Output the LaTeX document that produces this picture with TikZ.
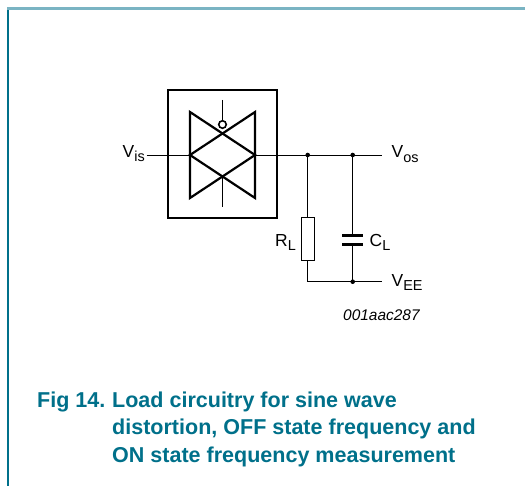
\documentclass[tikz,border=0pt]{standalone}
\usepackage{fontspec}
\setmainfont{Liberation Sans}
\definecolor{figteal}{HTML}{00708A}
\definecolor{rulebar}{HTML}{7AB4C3}
\newcommand{\sub}[1]{\raisebox{-4.2bp}{\fontsize{14.5}{14.5}\selectfont #1}}

\begin{document}
\begin{tikzpicture}[x=1bp,y=-1bp,
  wire/.style={line width=0.9bp},
  heavy/.style={line width=2.2bp},
  plate/.style={line width=3bp},
  lbl/.style={inner sep=0pt,font=\fontsize{17.5}{20}\selectfont},
  captext/.style={inner sep=0pt,anchor=base west,text=figteal,
    font=\fontsize{21.6}{26}\selectfont\bfseries},
  dot/.style={circle,fill,inner sep=0pt,minimum size=4.6bp}]
\useasboundingbox (0,0) rectangle (525,486);
% frame rules
\fill[rulebar] (7,7) rectangle (525,9.6);
\fill[figteal] (7,9.6) rectangle (9.2,486);

% switch box
\coordinate (S1) at (168,90);
\coordinate (S2) at (277,218);
\draw[heavy] (S1) rectangle (S2);
\coordinate (TL) at (190,112);
\coordinate (TR) at (255,112);
\coordinate (BL) at (190,198);
\coordinate (BR) at (255,198);
\coordinate (ML) at (190,155);
\coordinate (MR) at (255,155);
\draw[heavy,line join=miter] (TL) -- (MR) -- (BL) -- cycle;
\draw[heavy,line join=miter] (TR) -- (ML) -- (BR) -- cycle;
\coordinate (G1) at (222.5,100);
\coordinate (G2) at (222.5,206.5);
\coordinate (X2) at (222.5,176.7);
\node[circle,draw,line width=1.6bp,inner sep=0pt,minimum size=7.5bp,fill=white] (bub) at (222.5,124.5) {};
\draw[wire] (G1) -- (bub.north);
\draw[wire] (X2) -- (G2);

% input
\coordinate (in) at (146.5,155);
\node[lbl,anchor=base east] (vis) at (145,157.3) {V\sub{is}};
\draw[wire] (in) -- (ML);

% output and load
\coordinate (J1) at (307.7,155);
\coordinate (J2) at (352.7,155);
\coordinate (out) at (382,155);
\coordinate (J3) at (352.7,281.7);
\coordinate (J4) at (307.7,281.7);
\coordinate (ee) at (382,281.7);
\draw[wire] (MR) -- (out);
\node[dot] at (J1) {};
\node[dot] at (J2) {};
\node[dot] at (J3) {};
\node[wire,draw,minimum width=13bp,minimum height=43bp,inner sep=0pt] (RL) at (307.7,238.5) {};
\draw[wire] (J1) -- (RL.north);
\draw[wire] (RL.south) -- (J4) -- (J3) -- (ee);
\coordinate (C1) at (352.7,235);
\coordinate (C2) at (352.7,244.3);
\draw[wire] (J2) -- (C1);
\draw[wire] (C2) -- (J3);
\draw[plate] ([xshift=-10.5bp]C1) -- ([xshift=10.5bp]C1);
\draw[plate] ([xshift=-10.5bp]C2) -- ([xshift=10.5bp]C2);

% labels
\node[lbl,anchor=base west] (vos) at (391.5,158) {V\sub{os}};
\node[lbl,anchor=base west] (vee) at (391.5,286) {V\sub{EE}};
\node[lbl,anchor=base east] (rl) at (296,246) {R\sub{L}};
\node[lbl,anchor=base west] (cl) at (369.5,246) {C\sub{L}};
\node[lbl,anchor=base west,font=\fontsize{15.5}{18}\selectfont\itshape] (code) at (343,320) {001aac287};

% caption
\node[captext] (fig) at (37,407) {Fig 14.};
\node[captext] (cap1) at (112,407) {Load circuitry for sine wave};
\node[captext] (cap2) at (112,434.5) {distortion, OFF state frequency and};
\node[captext] (cap3) at (112,462) {ON state frequency measurement};
\end{tikzpicture}
\end{document}
